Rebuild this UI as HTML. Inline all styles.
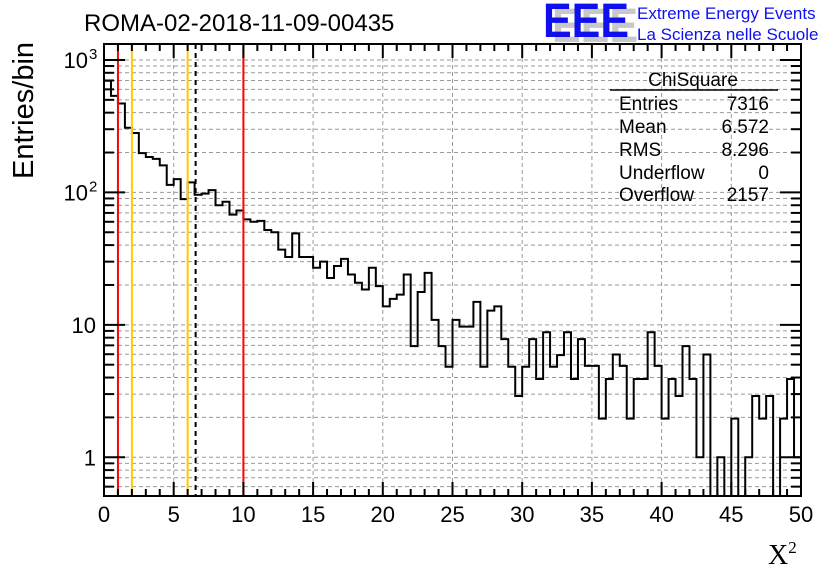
<!DOCTYPE html>
<html><head><meta charset="utf-8"><style>
body{margin:0;background:#fff}
svg{display:block;font-family:"Liberation Sans",sans-serif}
</style></head><body>
<svg id="c" width="836" height="572" viewBox="0 0 836 572">
<text x="84" y="31" font-size="24">ROMA-02-2018-11-09-00435</text>
<g>
<text x="552" y="42" font-size="48" font-weight="bold" fill="#c8c8c8" textLength="86" lengthAdjust="spacingAndGlyphs">EEE</text>
<text x="543" y="37" font-size="48" font-weight="bold" fill="#1010ee" textLength="86" lengthAdjust="spacingAndGlyphs">EEE</text>
<text x="637" y="19" font-size="17" fill="#1010ee">Extreme Energy Events</text>
<text x="637" y="40" font-size="17" fill="#1010ee">La Scienza nelle Scuole</text>
</g>
<g id="grid"></g>
<g id="marks"></g>
<g id="axes"></g>
<g font-size="19">
<text x="693" y="86" text-anchor="middle">ChiSquare</text>
<line x1="610" y1="90" x2="778" y2="90" stroke="#000" stroke-width="1.5"/>
<text x="619" y="110">Entries</text><text x="769" y="110" text-anchor="end">7316</text>
<text x="619" y="133">Mean</text><text x="769" y="133" text-anchor="end">6.572</text>
<text x="619" y="156">RMS</text><text x="769" y="156" text-anchor="end">8.296</text>
<text x="619" y="179">Underflow</text><text x="769" y="179" text-anchor="end">0</text>
<text x="619" y="201">Overflow</text><text x="769" y="201" text-anchor="end">2157</text>
</g>
<text x="0" y="0" font-size="29" transform="translate(33,179) rotate(-90)">Entries/bin</text>
<text x="768" y="564" font-size="28" font-family="Liberation Serif,serif">X<tspan font-size="17" dy="-11">2</tspan></text>
</svg>
<script>
const counts=[696,536,469,308,281,198,185,179,160,114,126,89,119,96,98,104,80,85,68,73,62.5,60,61,52,50,37,32.5,49,32.5,32.5,27,30,22.6,27.8,31.5,24,20.8,18.5,27,19.6,13.8,15.7,16.9,24,6.9,17.7,24.7,10.9,6.9,4.83,10.9,9.7,9.7,14.9,4.83,12.8,13.8,7.8,4.83,2.9,4.83,7.8,3.9,8.8,4.83,5.9,8.8,3.9,7.8,4.9,4.9,1.96,3.9,5.97,4.9,1.96,3.9,3.9,8.8,4.9,1.96,3.9,2.9,6.9,3.9,1,5.97,0,1,0,1.96,0,1,2.9,1.96,2.9,0,1.96,3.9,1];
const binWidth=0.5;
const xTicks=[0,5,10,15,20,25,30,35,40,45,50];
const yMajor=[1,10,100,1000];
const yMajorLabels=["1","10","10","10"];
const yMajorSup=["","","2","3"];
const vLines=[{x:1,c:"#ff0000",d:""},{x:2,c:"#ffcc00",d:""},{x:6,c:"#ffcc00",d:""},{x:6.572,c:"#000",d:"5,4"},{x:10,c:"#ff0000",d:""}];
const L=104,R=801,T=44,B=496,Y0=0.51,Y1=1320;
const X=v=>L+(v/50)*(R-L);
const Y=v=>B-(Math.log10(v)-Math.log10(Y0))/(Math.log10(Y1)-Math.log10(Y0))*(B-T);
const NS="http://www.w3.org/2000/svg";
function mk(p,t,a){const e=document.createElementNS(NS,t);for(const k in a)e.setAttribute(k,a[k]);p.appendChild(e);return e;}
const grid=document.getElementById('grid'),marks=document.getElementById('marks'),axes=document.getElementById('axes');
xTicks.forEach(t=>{if(t>0&&t<50){const g=mk(grid,'line',{x1:X(t),x2:X(t),y1:T,y2:B,stroke:'#999','stroke-dasharray':'4,3'});
}});
for(let d=0.1;d<=1000;d*=10){for(let m=1;m<10;m++){const v=Math.round(d*m*1000)/1000;if(v<Y0||v>Y1)continue;
const g=mk(grid,'line',{x1:L,x2:R,y1:Y(v),y2:Y(v),stroke:'#999','stroke-dasharray':'4,3'});
}}
let d='';
counts.forEach((c,i)=>{const y=c>0?Y(c):B;const x0=X(i*binWidth),x1=X((i+1)*binWidth);
d+=(i===0?'M'+x0+','+y:'L'+x0+','+y)+'L'+x1+','+y;});
const h=mk(marks,'path',{d:d,fill:'none',stroke:'#000','stroke-width':2});

vLines.forEach(v=>{const l=mk(marks,'line',{x1:X(v.x),x2:X(v.x),y1:T,y2:B,stroke:v.c,'stroke-width':2,'stroke-dasharray':v.d});
});
const f=mk(axes,'rect',{x:L,y:T,width:R-L,height:B-T,fill:'none',stroke:'#000','stroke-width':2});

for(let t=0;t<=50;t++){const len=t%5===0?14:7;
mk(axes,'line',{x1:X(t),x2:X(t),y1:B,y2:B-len,stroke:'#000','stroke-width':2});
mk(axes,'line',{x1:X(t),x2:X(t),y1:T,y2:T+len,stroke:'#000','stroke-width':2});}
xTicks.forEach(t=>{const e=mk(axes,'text',{x:X(t),y:522,'font-size':22,'text-anchor':'middle'});e.textContent=t;
});
for(let dd=0.1;dd<=1000;dd*=10){for(let m=1;m<10;m++){const v=Math.round(dd*m*1000)/1000;if(v<Y0||v>Y1)continue;const len=m===1?21:10;
mk(axes,'line',{x1:L,x2:L+len,y1:Y(v),y2:Y(v),stroke:'#000','stroke-width':2});
mk(axes,'line',{x1:R,x2:R-len,y1:Y(v),y2:Y(v),stroke:'#000','stroke-width':2});}}
yMajor.forEach((v,i)=>{const e=mk(axes,'text',{x:yMajorSup[i]?88:96,y:Y(v)+8,'font-size':22,'text-anchor':'end'});e.textContent=yMajorLabels[i];

if(yMajorSup[i]){const s=mk(axes,'text',{x:89,y:Y(v)-1,'font-size':15});s.textContent=yMajorSup[i];
}});
</script>
</body></html>
